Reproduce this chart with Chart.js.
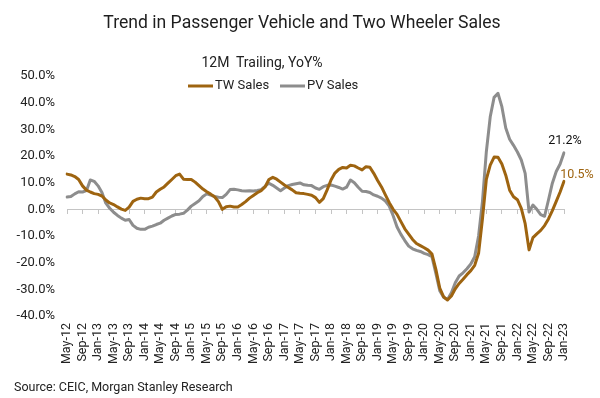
<!DOCTYPE html>
<html>
<head>
<meta charset="utf-8">
<script src="https://cdn.jsdelivr.net/npm/chart.js@4.4.1/dist/chart.umd.min.js"></script>
<style>
  body { margin: 0; background: #fff; }
  #wrap { position: relative; width: 600px; height: 398px; font-family: Roboto, "Liberation Sans", Arial, sans-serif; color: #222; }
  #chart { position: absolute; left: 0; top: 0; }
  .txt { position: absolute; white-space: nowrap; }
  #title { left: 0; width: 604px; top: 11px; line-height: 22px; font-size: 17.6px; text-align: center; color: #1e1e1e; }
  #subtitle { left: 0; width: 524px; top: 53px; line-height: 18px; font-size: 14px; text-align: center; }
  #source { left: 14px; top: 378px; line-height: 18px; font-size: 12.5px; }
</style>
</head>
<body>
<div id="wrap">
  <canvas id="chart" width="600" height="398"></canvas>
  <div class="txt" id="title">Trend in Passenger Vehicle and Two Wheeler Sales</div>
  <div class="txt" id="subtitle">12M&nbsp; Trailing, YoY%</div>
  <div class="txt" id="source">Source: CEIC, Morgan Stanley Research</div>
</div>
<script>
let months = [
  'May-12','Jun-12','Jul-12','Aug-12','Sep-12','Oct-12','Nov-12','Dec-12','Jan-13','Feb-13','Mar-13','Apr-13',
  'May-13','Jun-13','Jul-13','Aug-13','Sep-13','Oct-13','Nov-13','Dec-13','Jan-14','Feb-14','Mar-14','Apr-14',
  'May-14','Jun-14','Jul-14','Aug-14','Sep-14','Oct-14','Nov-14','Dec-14','Jan-15','Feb-15','Mar-15','Apr-15',
  'May-15','Jun-15','Jul-15','Aug-15','Sep-15','Oct-15','Nov-15','Dec-15','Jan-16','Feb-16','Mar-16','Apr-16',
  'May-16','Jun-16','Jul-16','Aug-16','Sep-16','Oct-16','Nov-16','Dec-16','Jan-17','Feb-17','Mar-17','Apr-17',
  'May-17','Jun-17','Jul-17','Aug-17','Sep-17','Oct-17','Nov-17','Dec-17','Jan-18','Feb-18','Mar-18','Apr-18',
  'May-18','Jun-18','Jul-18','Aug-18','Sep-18','Oct-18','Nov-18','Dec-18','Jan-19','Feb-19','Mar-19','Apr-19',
  'May-19','Jun-19','Jul-19','Aug-19','Sep-19','Oct-19','Nov-19','Dec-19','Jan-20','Feb-20','Mar-20','Apr-20',
  'May-20','Jun-20','Jul-20','Aug-20','Sep-20','Oct-20','Nov-20','Dec-20','Jan-21','Feb-21','Mar-21','Apr-21',
  'May-21','Jun-21','Jul-21','Aug-21','Sep-21','Oct-21','Nov-21','Dec-21','Jan-22','Feb-22','Mar-22','Apr-22',
  'May-22','Jun-22','Jul-22','Aug-22','Sep-22','Oct-22','Nov-22','Dec-22','Jan-23'
];

// two wheeler sales, 12m trailing yoy %
let twSales = [
  13.2, 12.9, 12.3, 11.2, 8.8, 7.2, 6.5, 5.9, 5.6, 5.0, 3.5, 2.4,
  1.8, 0.9, 0.1, -0.4, 0.8, 3.0, 3.8, 4.2, 4.0, 4.0, 4.6, 6.5,
  7.5, 8.4, 9.8, 11.2, 12.6, 13.2, 11.3, 11.2, 11.2, 10.2, 8.9, 7.6,
  6.6, 5.7, 4.7, 2.9, 0.0, 1.0, 1.2, 0.9, 0.9, 1.8, 2.9, 4.2,
  5.2, 6.2, 7.0, 8.4, 11.2, 12.0, 11.3, 10.2, 9.1, 8.2, 7.3, 6.2,
  6.0, 5.9, 5.6, 5.3, 4.4, 2.6, 4.0, 7.3, 11.0, 13.6, 15.0, 15.7,
  15.5, 16.5, 16.3, 15.5, 14.8, 16.0, 15.8, 13.5, 10.8, 8.4, 5.4, 2.5,
  0.0, -1.9, -4.6, -7.3, -9.3, -11.3, -12.8, -13.6, -14.4, -15.3, -16.8, -22.5,
  -29.5, -32.8, -34.0, -32.5, -29.8, -27.8, -26.2, -24.5, -23.0, -21.0, -16.5, -3.6,
  11.2, 16.6, 19.6, 19.5, 17.0, 12.8, 7.2, 4.7, 3.6, 0.4, -5.4, -15.2,
  -10.6, -9.2, -7.9, -6.1, -3.6, -0.5, 3.0, 6.5, 10.5
];

// passenger vehicle sales, 12m trailing yoy %
let pvSales = [
  4.6, 4.8, 5.8, 6.6, 6.5, 7.0, 11.0, 10.5, 8.8, 6.3, 2.3, 0.4,
  -1.1, -2.3, -3.3, -4.1, -3.8, -6.0, -7.1, -7.5, -7.5, -6.7, -6.3, -5.7,
  -5.2, -4.1, -3.3, -2.5, -1.9, -1.8, -1.5, -0.3, 1.2, 2.2, 3.2, 4.8,
  5.8, 5.3, 4.8, 4.5, 4.4, 5.6, 7.4, 7.5, 7.3, 7.0, 6.9, 7.0,
  6.9, 7.1, 7.4, 8.6, 9.8, 9.0, 8.0, 7.0, 8.0, 8.9, 9.3, 9.6,
  9.9, 9.2, 9.0, 8.9, 8.0, 7.5, 8.5, 9.0, 9.1, 8.7, 8.2, 7.6,
  8.3, 11.0, 10.0, 8.3, 6.8, 6.7, 6.3, 5.4, 4.9, 4.2, 3.1, 1.2,
  -2.4, -6.6, -9.4, -11.7, -13.8, -14.8, -15.4, -15.8, -16.5, -17.0, -17.8, -24.0,
  -30.5, -33.0, -33.8, -31.3, -27.5, -25.0, -23.8, -22.3, -20.5, -17.8, -10.0, 3.0,
  21.6, 34.7, 42.0, 43.5, 38.5, 30.5, 26.3, 24.0, 21.5, 18.5, 13.5, -1.0,
  1.6, 0.0, -2.0, -2.6, 3.5, 9.8, 14.2, 17.0, 21.2
];

let yTicks = [-40, -30, -20, -10, 0, 10, 20, 30, 40, 50];
let seriesNames = ['TW Sales', 'PV Sales'];
let seriesColors = ['#9e6410', '#8d8d8d'];
let endLabelColors = ['#9e6410', '#111111'];

// legend drawn inside the plot, under the subtitle
let legendX = [188, 280];
let legendY = 86;

const legendPlugin = {
  id: 'lineLegend',
  afterDraw(chart) {
    const ctx = chart.ctx;
    ctx.save();
    ctx.font = '13px Roboto, "Liberation Sans", Arial, sans-serif';
    ctx.textBaseline = 'middle';
    chart.data.datasets.forEach((ds, i) => {
      const x = legendX[i];
      ctx.strokeStyle = ds.borderColor;
      ctx.lineWidth = 3;
      ctx.lineCap = 'butt';
      ctx.beginPath();
      ctx.moveTo(x, legendY);
      ctx.lineTo(x + 25, legendY);
      ctx.stroke();
      ctx.fillStyle = '#222';
      ctx.fillText(ds.label, x + 27, legendY);
    });
    ctx.restore();
  }
};

const endLabelPlugin = {
  id: 'endLabels',
  afterDatasetsDraw(chart) {
    const ctx = chart.ctx;
    ctx.save();
    ctx.font = '12.5px Roboto, "Liberation Sans", Arial, sans-serif';
    ctx.textBaseline = 'middle';
    ctx.textAlign = 'center';
    chart.data.datasets.forEach((ds, i) => {
      const pts = chart.getDatasetMeta(i).data;
      const last = pts[pts.length - 1];
      const value = ds.data[ds.data.length - 1];
      ctx.fillStyle = endLabelColors[i];
      if (i === 0) {
        ctx.fillText(value.toFixed(1) + '%', last.x + 13, last.y - 6);
      } else {
        ctx.fillText(value.toFixed(1) + '%', last.x + 1, last.y - 12);
      }
    });
    ctx.restore();
  }
};

new Chart(document.getElementById('chart'), {
  type: 'line',
  data: {
    labels: months,
    datasets: [
      { label: seriesNames[0], data: twSales, borderColor: seriesColors[0], backgroundColor: seriesColors[0] },
      { label: seriesNames[1], data: pvSales, borderColor: seriesColors[1], backgroundColor: seriesColors[1] }
    ]
  },
  options: {
    responsive: false,
    animation: false,
    layout: { padding: { top: 76, right: 36, bottom: 0, left: 0 } },
    elements: {
      line: { borderWidth: 3, tension: 0, borderJoinStyle: 'round', borderCapStyle: 'round' },
      point: { radius: 0, hoverRadius: 0 }
    },
    plugins: {
      legend: { display: false },
      tooltip: { enabled: false }
    },
    scales: {
      x: {
        grid: { display: false, drawTicks: false },
        border: { display: false },
        ticks: {
          autoSkip: false,
          minRotation: 90,
          maxRotation: 90,
          padding: 7,
          color: '#222',
          font: { family: 'Roboto, "Liberation Sans", Arial, sans-serif', size: 12.5 },
          callback: (v, i) => (i % 4 === 0 ? months[i] : '')
        },
        afterFit: (s) => { s.height = 82; }
      },
      zero: {
        type: 'category',
        axis: 'x',
        position: { y: 0 },
        grid: {
          drawOnChartArea: false,
          drawTicks: true,
          tickLength: 4,
          color: (c) => (c.index % 4 === 0 ? '#c4c4c4' : 'rgba(0,0,0,0)')
        },
        border: { display: true, color: '#c4c4c4', width: 1 },
        ticks: { display: false, autoSkip: false }
      },
      y: {
        min: -40,
        max: 50,
        afterBuildTicks: (s) => { s.ticks = yTicks.map(v => ({ value: v })); },
        grid: { display: false, drawTicks: false },
        border: { display: false },
        ticks: {
          padding: 12,
          color: '#222',
          font: { family: 'Roboto, "Liberation Sans", Arial, sans-serif', size: 13 },
          callback: (v) => v.toFixed(1) + '%'
        },
        afterFit: (s) => { s.width = 67; }
      }
    }
  },
  plugins: [legendPlugin, endLabelPlugin]
});
</script>
</body>
</html>
